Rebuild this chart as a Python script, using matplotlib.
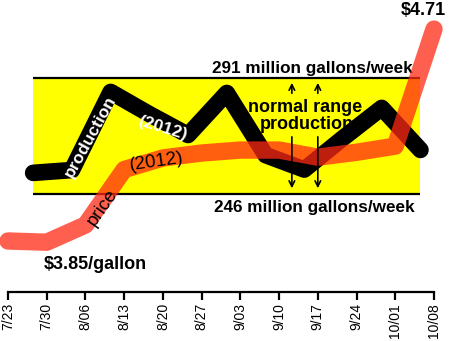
import matplotlib.pyplot as plt
import numpy as np

plt.rcParams['font.family'] = ['Liberation Sans', 'DejaVu Sans']

weeks = ['7/23', '7/30', '8/06', '8/13', '8/20', '8/27', '9/03',
         '9/10', '9/17', '9/24', '10/01', '10/08']
# retail price, $/gallon
price = [3.85, 3.845, 3.915, 4.14, 4.187, 4.207, 4.219,
         4.219, 4.19, 4.21, 4.235, 4.71]
# weekly production, million gallons (reported a few days after each price date)
production = [254.2, 255.3, 285.6, 277.0, 268.9, 285.2,
              261.1, 255.5, 267.7, 279.4, 263.1]
prod_offset = 0.65
range_low, range_high = 246, 291


def main():
    fig = plt.figure(figsize=(4.49, 3.41), dpi=100)
    ax = fig.add_axes([8 / 449, 49 / 341, 426 / 449, 292 / 341])
    ax2 = ax.twinx()

    x = np.arange(len(weeks))
    px = np.arange(len(production)) + prod_offset

    # normal production range
    ax.fill_between([px[0], px[-1]], range_low, range_high, color='#ffff00', lw=0, zorder=1)
    ax.hlines([range_low, range_high], px[0], px[-1], color='black', lw=1.6, zorder=2)

    ax.plot(px, production, color='black', lw=12, solid_capstyle='round',
            solid_joinstyle='round', zorder=3, clip_on=False)

    ax2.plot(x, price, color=(1.0, 0.16, 0.08), alpha=0.75, lw=12.5,
             solid_capstyle='round', solid_joinstyle='round', clip_on=False)

    ax.set_xlim(0, 11)
    ax.set_ylim(208.0, 321.26)
    ax2.set_ylim(3.643, 4.828)

    for a in (ax, ax2):
        for side in ('top', 'right', 'left'):
            a.spines[side].set_visible(False)
        a.set_yticks([])
    ax2.spines['bottom'].set_visible(False)
    ax.spines['bottom'].set_linewidth(1.6)
    ax.set_xticks(x)
    ax.set_xticklabels(weeks, rotation=90, fontsize=10)
    ax.tick_params(axis='x', length=6, width=1.6, pad=2)

    bold = dict(fontweight='bold', ha='center')
    ax.text(7.87, 292.9, f'{range_high} million gallons/week', fontsize=12.3, va='baseline', **bold)
    ax.text(7.9, 239.0, f'{range_low} million gallons/week', fontsize=12.3, va='baseline', **bold)
    ax.text(7.67, 277.8, 'normal range', fontsize=13, va='baseline', **bold)
    ax.text(7.72, 271.1, 'production', fontsize=13, va='baseline', **bold)

    for ax_x in (7.33, 8.0):
        ax.annotate('', xy=(ax_x, 290.2), xytext=(ax_x, 284.0),
                    arrowprops=dict(arrowstyle='->', lw=1.2, color='black'), zorder=6)
        ax2.annotate('', xy=(ax_x, 3.643 + (292 - 191) / 246.5), xytext=(ax_x, 3.643 + (292 - 134) / 246.5),
                     arrowprops=dict(arrowstyle='->', lw=1.2, color='black'), zorder=6)

    ax.text(2.12, 268.1, 'production', color='white', fontsize=12.5, fontweight='bold',
            rotation=61, ha='center', va='center', zorder=5)
    ax.text(4.0, 271.6, '(2012)', color='white', fontsize=12.5, fontweight='bold',
            rotation=-17, ha='center', va='center', zorder=5)

    ax2.text(2.45, 3.984, 'price', fontsize=13.5, rotation=55, ha='center', va='center')
    ax2.text(3.85, 4.170, '(2012)', fontsize=13.5, rotation=8, ha='center', va='center')
    ax2.text(10.72, 4.787, '$4.71', fontsize=13, va='center', **bold)
    ax2.text(2.25, 3.753, '$3.85/gallon', fontsize=13, va='center', **bold)

    fig.savefig('out.png', dpi=100)


if __name__ == '__main__':
    main()
